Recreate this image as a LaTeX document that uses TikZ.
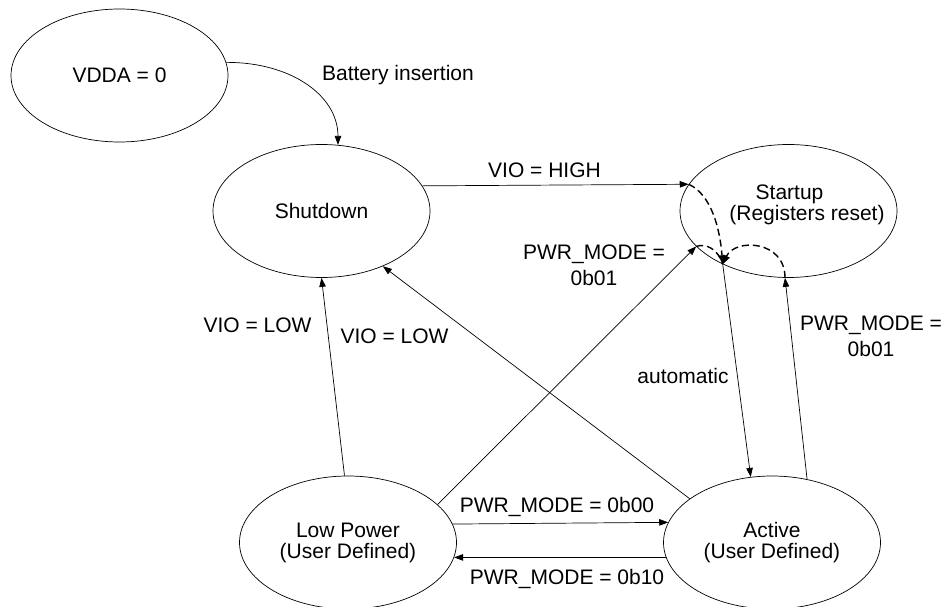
\documentclass[tikz,border=0pt]{standalone}
\usepackage{fontspec}
\setmainfont{Liberation Sans}
\usetikzlibrary{arrows.meta,shapes.geometric}
\begin{document}
\begin{tikzpicture}[x=1pt,y=-1pt,
  state/.style={ellipse,draw,line width=0.7pt,minimum width=217pt,minimum height=133pt,
    inner sep=0pt,align=center,font=\fontsize{21}{21}\selectfont},
  lbl/.style={inner sep=0pt,align=center,font=\fontsize{21}{26}\selectfont},
  one/.style={lbl,text height=15pt,text depth=0pt},
  conn/.style={line width=0.7pt,-{Triangle[length=9pt,width=6.5pt]}},
  dconn/.style={line width=1.4pt,dash pattern=on 7pt off 4pt,-{Triangle[length=9pt,width=7pt]}},
  dline/.style={line width=1.4pt,dash pattern=on 7pt off 4pt},
]
\path[use as bounding box] (0,0) rectangle (945,607);

% states
\node[state] (vdda) at (119.5,75.5) {VDDA = 0};
\node[state] (shut) at (321.5,211) {Shutdown};
\node[state] (start) at (788.5,211) {};
\node[lbl,font=\fontsize{21}{21}\selectfont] (starttxt) at (789.5,204.7)
  {Startup\\\makebox[0pt]{\hspace*{35pt}(Registers reset)}};
\node[state] (low) at (348,542.5) {Low Power\\(User Defined)};
\node[state] (act) at (772,542.5) {Active\\(User Defined)};

% labels
\node[one] (lbat) at (398,73) {Battery insertion};
\node[one] (lhigh) at (544.5,170) {VIO = HIGH};
\node[lbl] (lpm1) at (594,265.5) {PWR\_MODE =\\0b01};
\node[lbl] (lpm2) at (871,336) {PWR\_MODE =\\0b01};
\node[one] (llow1) at (257.5,325) {VIO = LOW};
\node[one] (llow2) at (394.5,336) {VIO = LOW};
\node[one] (lauto) at (683,375.5) {automatic};
\node[one] (l00) at (557,505) {PWR\_MODE = 0b00};
\node[one] (l10) at (567,577) {PWR\_MODE = 0b10};

% connectors
\draw[conn] (vdda.7) .. controls (290,62) and (338,95) .. (shut.76);
\draw[conn] (shut.14) -- (start.165.9);
\draw[dconn] (start.165.9) .. controls (712,195) and (720,230) .. (start.219);
\draw[conn] (low.23.7) -- (start.201.4);
\draw[dline] (start.201.4) .. controls (706,243) and (718,249) .. (start.219);
\draw[conn] (act.61.8) -- (start.267);
\draw[dconn] (start.267) .. controls (785,240) and (735,238) .. (start.219);
\draw[conn] (start.219) -- (act.108.3);
\draw[conn] (low.93.4) -- (shut.-90.4);
\draw[conn] (act.152.9) -- (shut.-42.3);
\draw[conn] (low.10.5) -- (act.169.8);
\draw[conn] (act.188.8) -- (low.-8.85);
\end{tikzpicture}
\end{document}
